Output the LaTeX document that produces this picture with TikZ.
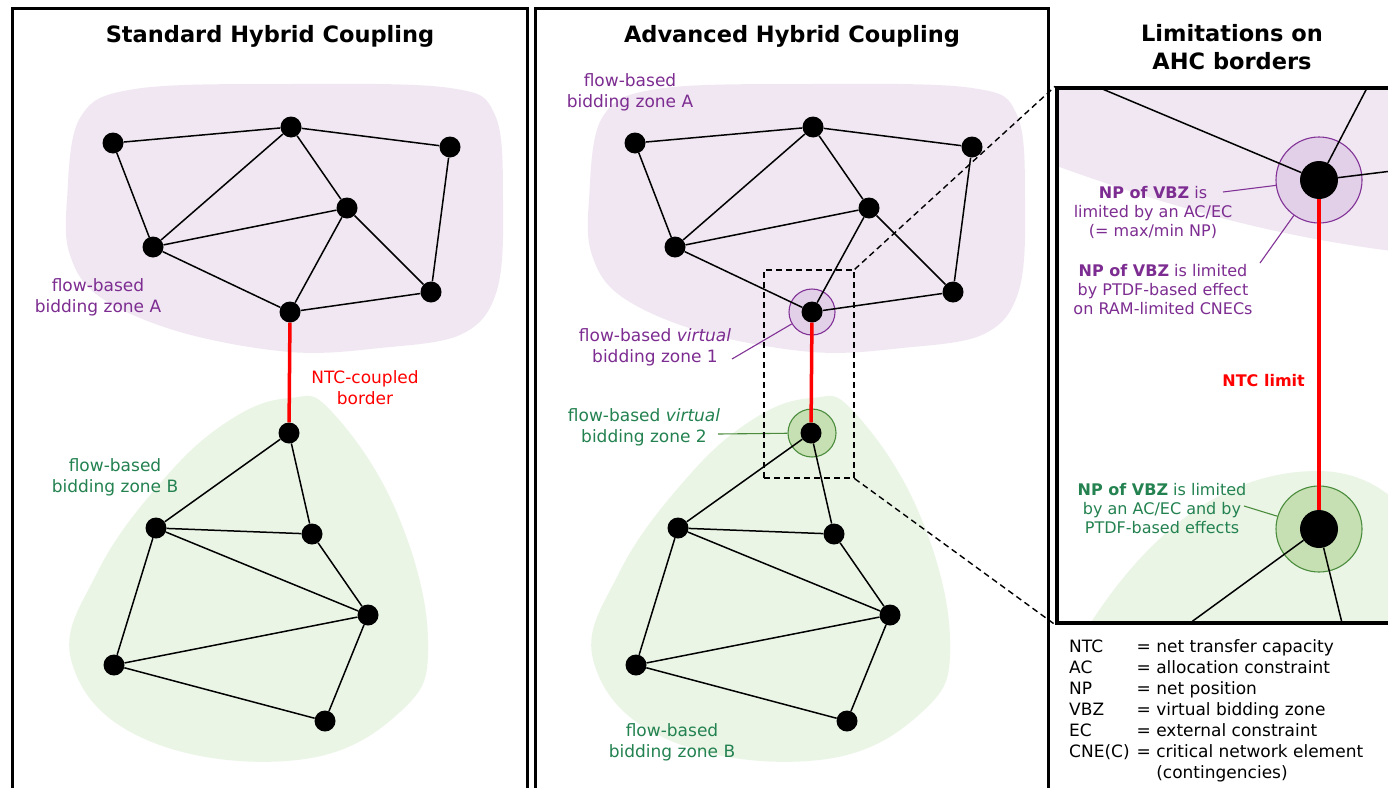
\documentclass[tikz,border=0pt]{standalone}
\usepackage{fontspec}
\setmainfont{DejaVu Sans}
\definecolor{blobP}{RGB}{240,231,242}
\definecolor{blobG}{RGB}{234,245,230}
\definecolor{txtP}{RGB}{125,45,145}
\definecolor{txtG}{RGB}{35,130,80}
\definecolor{haloPf}{RGB}{226,208,233}
\definecolor{haloPd}{RGB}{130,50,150}
\definecolor{haloGf}{RGB}{198,224,180}
\definecolor{haloGd}{RGB}{75,140,60}
\newcommand{\blobs}{%
  \fill[blobP] plot[smooth cycle, tension=0.6] coordinates {(67,200) (80,118) (135,89) (290,84) (450,88) (495,115) (503,200) (497,290) (462,334) (380,348) (290,352) (180,332) (100,297) (70,255)};
  \fill[blobG] plot[smooth cycle, tension=0.7] coordinates {(290,398) (332,412) (397,513) (428,640) (400,712) (297,760) (147,740) (72,663) (97,573) (163,480) (230,420)};
}
\newcommand{\netnodes}[1]{%
  \node[dot] (#1a1) at (113,143) {};
  \node[dot] (#1a2) at (291,127) {};
  \node[dot] (#1a3) at (450,147) {};
  \node[dot] (#1a4) at (347,208) {};
  \node[dot] (#1a5) at (153,247) {};
  \node[dot] (#1a6) at (431,292) {};
  \node[dot] (#1a7) at (290,312) {};
  \node[dot] (#1b1) at (289,433) {};
  \node[dot] (#1b2) at (156,528) {};
  \node[dot] (#1b3) at (312,534) {};
  \node[dot] (#1b4) at (368,615) {};
  \node[dot] (#1b5) at (114,665) {};
  \node[dot] (#1b6) at (325,721) {};
  \draw[edge] (#1a1)--(#1a2) (#1a2)--(#1a3) (#1a1)--(#1a5) (#1a2)--(#1a5) (#1a2)--(#1a4) (#1a5)--(#1a4) (#1a4)--(#1a7) (#1a4)--(#1a6) (#1a3)--(#1a6) (#1a5)--(#1a7) (#1a7)--(#1a6);
  \draw[edge] (#1b1)--(#1b2) (#1b1)--(#1b3) (#1b2)--(#1b3) (#1b2)--(#1b4) (#1b3)--(#1b4) (#1b2)--(#1b5) (#1b5)--(#1b4) (#1b5)--(#1b6) (#1b4)--(#1b6);
  \draw[ntc] (#1a7)--(#1b1);
}
\begin{document}
\begin{tikzpicture}[x=1pt,y=-1pt,
  dot/.style={circle,fill=black,inner sep=0pt,minimum size=21pt},
  bigdot/.style={circle,fill=black,inner sep=0pt,minimum size=38pt},
  edge/.style={line width=1.5pt},
  ntc/.style={red,line width=3.5pt},
  panel/.style={line width=3pt},
  title/.style={inner sep=0pt,align=center,font=\bfseries\fontsize{22.5}{28}\selectfont},
  txt/.style={inner sep=0pt,align=center,font=\fontsize{17}{21}\selectfont},
  small/.style={inner sep=0pt,align=center,font=\fontsize{16}{19}\selectfont},
  haloP/.style={circle,inner sep=0pt,fill=haloPf,draw=haloPd,line width=1.1pt},
  haloG/.style={circle,inner sep=0pt,fill=haloGf,draw=haloGd,line width=1.1pt},
  leadP/.style={haloPd,line width=1.1pt},
  leadG/.style={haloGd,line width=1.1pt},
  zdash/.style={line width=1.4pt,dash pattern=on 6pt off 4pt}
]
\useasboundingbox (0,0) rectangle (1388,787);
\fill[white] (0,0) rectangle (1388,787);

% ---------- left panel ----------
\draw[panel] (12,8) rectangle (527,800);
\node[title] (t1) at (270,36) {Standard Hybrid Coupling};
\blobs
\netnodes{L}
\node[txt,text=txtP] (lzA) at (98,297) {flow-based\\bidding zone A};
\node[txt,text=red] (lntc) at (365,388) {NTC-coupled\\border};
\node[txt,text=txtG] (lzB) at (115,477) {flow-based\\bidding zone B};

% ---------- middle panel ----------
\draw[panel] (535,8) rectangle (1048,800);
\node[title] (t2) at (792,36) {Advanced Hybrid Coupling};
\begin{scope}[xshift=522pt]
  \blobs
  \node[haloP,minimum size=46pt] (hv1) at (290,312) {};
  \node[haloG,minimum size=48pt] (hv2) at (290,433) {};
  \netnodes{M}
\end{scope}
\node[txt,text=txtP] (mzA) at (630,92) {flow-based\\bidding zone A};
\node[txt,text=txtP] (mv1) at (655,347) {flow-based \textit{virtual}\\bidding zone 1};
\node[txt,text=txtG] (mv2) at (644,427) {flow-based \textit{virtual}\\bidding zone 2};
\node[txt,text=txtG] (mzB) at (672,742) {flow-based\\bidding zone B};
\coordinate (lv1) at (732,359);
\coordinate (lv2) at (718,434);
\draw[leadP] (lv1) -- (hv1);
\draw[leadG] (lv2) -- (hv2);
\node[draw,zdash,minimum width=90pt,minimum height=208pt,inner sep=0pt] (zr) at (809,374) {};

% ---------- right panel ----------
\node[title] (t3) at (1232,47) {Limitations on\\AHC borders};
\begin{scope}
  \clip (1057,88) rectangle (1400,623);
  \fill[blobP] (1040,60) -- (1040,160) .. controls (1150,200) and (1260,235) .. (1400,252) -- (1400,60) -- cycle;
  \fill[blobG] (1080,640) .. controls (1140,540) and (1220,470) .. (1320,471) .. controls (1360,472) and (1385,490) .. (1400,505) -- (1400,640) -- cycle;
  \node[haloP,minimum size=86pt] (zht) at (1319,180) {};
  \node[haloG,minimum size=86pt] (zhb) at (1319,529) {};
  \node[bigdot] (zt) at (1319,180) {};
  \node[bigdot] (zbn) at (1319,529) {};
  \coordinate (e1) at (1100,88);
  \coordinate (e2) at (1367,88);
  \coordinate (e3) at (1400,170);
  \coordinate (e4) at (1190,623);
  \coordinate (e5) at (1342,623);
  \draw[edge] (zt) -- (e1) (zt) -- (e2) (zt) -- (e3);
  \draw[edge] (zbn) -- (e4) (zbn) -- (e5);
  \draw[ntc] (zt) -- (zbn);
\end{scope}
\node[draw,line width=3.5pt,minimum width=343pt,minimum height=535pt,inner sep=0pt] (zb) at (1228.5,355.5) {};
\draw[zdash] (zr.north east) -- (zb.north west);
\draw[zdash] (zr.south east) -- (zb.south west);

\node[small,text=txtP] (np1) at (1153,212) {\textbf{NP of VBZ} is\\limited by an AC/EC\\(= max/min NP)};
\node[small,text=txtP] (np2) at (1163,290) {\textbf{NP of VBZ} is limited\\by PTDF-based effect\\on RAM-limited CNECs};
\node[small,text=txtG] (np3) at (1162,509) {\textbf{NP of VBZ} is limited\\by an AC/EC and by\\PTDF-based effects};
\node[small,text=red,font=\bfseries\fontsize{16}{19}\selectfont,anchor=east] (ntcl) at (1305,381) {NTC limit};
\coordinate (c1) at (1223,192);
\coordinate (c2) at (1260,263);
\coordinate (c3) at (1244,506);
\draw[leadP] (c1) -- (zht);
\draw[leadP] (c2) -- (zht);
\draw[leadG] (c3) -- (zhb);

% legend
\node[anchor=north west,inner sep=0pt,font=\fontsize{17}{21}\selectfont] (legend) at (1069,638) {%
\begin{tabular}{@{}l@{\hspace{7pt}}l@{}}
NTC & = net transfer capacity\\
AC & = allocation constraint\\
NP & = net position\\
VBZ & = virtual bidding zone\\
EC & = external constraint\\
CNE(C) & = critical network element\\
 & \phantom{= }(contingencies)
\end{tabular}};
\end{tikzpicture}
\end{document}
